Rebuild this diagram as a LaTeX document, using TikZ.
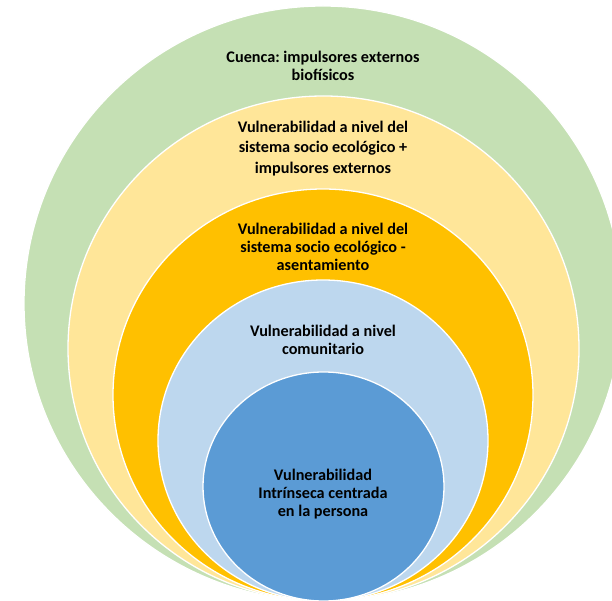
\documentclass[tikz,border=0pt]{standalone}
\usepackage{fontspec}
\setmainfont{Carlito}
\frenchspacing
\definecolor{cgreen}{HTML}{C5E0B4}
\definecolor{cyellow}{HTML}{FFE699}
\definecolor{corange}{HTML}{FFC000}
\definecolor{clblue}{HTML}{BDD7EE}
\definecolor{cblue}{HTML}{5B9BD5}
\tikzset{
  ring/.style={draw=white, line width=1.3pt},
  lbl/.style={align=center, text=black, font=\bfseries\fontsize{16.2}{18}\selectfont, inner sep=0pt}
}
\begin{document}
\begin{tikzpicture}[x=1pt,y=-1pt]
\useasboundingbox (0,0) rectangle (612,601);
\begin{scope}
\clip (0,0) rectangle (612,601);
\filldraw[ring, fill=cgreen]  (323,303.5) ellipse [x radius=299, y radius=297.5];
\filldraw[ring, fill=cyellow] (323.5,348.5) ellipse [x radius=255.5, y radius=252.5];
\filldraw[ring, fill=corange] (323,395) ellipse [x radius=210, y radius=206];
\filldraw[ring, fill=clblue]  (323,440.5) ellipse [x radius=165, y radius=160.5];
\filldraw[ring, fill=cblue]   (323.5,486.5) ellipse [x radius=120.5, y radius=114.5];
\end{scope}
\node[lbl] (t1) at (323,65.5) {Cuenca: impulsores externos\\biofísicos};
\node[lbl, font=\bfseries\fontsize{16.2}{20.5}\selectfont] (t2) at (323,148.5) {Vulnerabilidad a nivel del\\sistema socio ecológico +\\impulsores externos};
\node[lbl] (t3) at (323,247) {Vulnerabilidad a nivel del\\sistema socio ecológico -\\asentamiento};
\node[lbl] (t4) at (323,340) {Vulnerabilidad a nivel\\comunitario};
\node[lbl] (t5) at (323,494) {Vulnerabilidad\\Intrínseca centrada\\en la persona};
\end{tikzpicture}
\end{document}
